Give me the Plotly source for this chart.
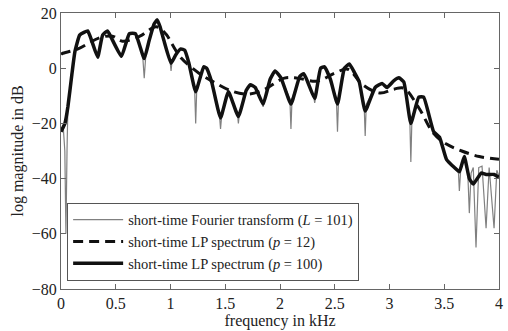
import plotly.graph_objects as go

# Short-time Fourier transform (L = 101)
stft_f = [0, 0.02, 0.035, 0.045, 0.055, 0.063, 0.1, 0.127, 0.17, 0.21, 0.244, 0.28, 0.335, 0.38, 0.425,
          0.46, 0.552, 0.624, 0.68, 0.745, 0.76, 0.775, 0.805, 0.85, 0.878, 0.905, 0.94, 0.995, 1.005,
          1.015, 1.05, 1.095, 1.13, 1.167, 1.22, 1.23, 1.24, 1.303, 1.33, 1.376, 1.445, 1.457, 1.47,
          1.529, 1.61, 1.62, 1.63, 1.692, 1.728, 1.774, 1.846, 1.91, 1.955, 2.009, 2.09, 2.1, 2.11,
          2.18, 2.217, 2.253, 2.307, 2.317, 2.327, 2.371, 2.407, 2.46, 2.515, 2.525, 2.535, 2.588,
          2.633, 2.679, 2.724, 2.768, 2.778, 2.788, 2.869, 2.932, 2.977, 3.041, 3.086, 3.131, 3.185,
          3.195, 3.205, 3.267, 3.312, 3.403, 3.457, 3.52, 3.593, 3.63, 3.638, 3.65, 3.683, 3.715,
          3.729, 3.745, 3.765, 3.79, 3.815, 3.845, 3.882, 3.91, 3.955, 3.98, 4.0]
stft_db = [-22, -21, -30, -60, -30, -14, -2, 6, 12, 13, 13.5, 10, 4, 12, 13.5,
           11, 4, 12.5, 12.5, 5, -3.6, 5, 10, 16, 18, 15, 10, 3, -1,
           3, 5, 7, 6.5, 2, -7, -20, -7, 0.5, 0, -5, -16, -22, -16,
           -8.5, -16, -20, -16, -8, -6, -7, -14, -4, -1, -3.5, -11, -22, -11,
           -3, -2, -5, -10, -12.6, -10, 0, 0.5, -4, -11, -23, -11, 0,
           1.5, -1.5, -5, -13, -24.6, -13, -7, -5.5, -7, -4.5, -3.5, -5, -18,
           -34, -18, -10.5, -10.5, -23, -25, -33, -36, -38, -44.5, -37, -32, -38,
           -52.5, -38, -36, -65, -36, -35.5, -58, -36, -58, -37, -39]

# Short-time LP spectrum (p = 12)
lp12_f = [0, 0.01, 0.15, 0.35, 0.47, 0.56, 0.72, 0.87, 0.96, 1.01, 1.1, 1.26, 1.38, 1.56, 1.71,
          1.86, 2.04, 2.16, 2.34, 2.5, 2.62, 2.75, 2.91, 3.04, 3.13, 3.27, 3.4, 3.52, 3.66, 3.82, 4.0]
lp12_db = [5, 5.3, 6.9, 11, 11.6, 9.8, 11.6, 15, 12.3, 9, 3.6, -1.8, -4.7, -8.3, -9.4,
           -7.6, -3.6, -3.6, -4.7, -1.8, -0.4, -5.8, -9, -7.6, -7.2, -14.5, -23.5, -27.5, -30, -32, -33]

# Short-time LP spectrum (p = 100)
lp100_f = [0, 0.036, 0.063, 0.1, 0.127, 0.17, 0.21, 0.244, 0.28, 0.335, 0.38, 0.425, 0.46, 0.552,
           0.624, 0.68, 0.76, 0.805, 0.85, 0.878, 0.905, 0.94, 1.005, 1.05, 1.095, 1.13, 1.167, 1.23,
           1.303, 1.33, 1.376, 1.457, 1.529, 1.62, 1.692, 1.728, 1.774, 1.846, 1.91, 1.955, 2.009,
           2.1, 2.18, 2.217, 2.253, 2.317, 2.371, 2.407, 2.46, 2.525, 2.588, 2.633, 2.679, 2.724,
           2.778, 2.869, 2.932, 2.977, 3.041, 3.086, 3.131, 3.195, 3.267, 3.312, 3.403, 3.457, 3.52,
           3.593, 3.638, 3.683, 3.729, 3.765, 3.837, 3.882, 3.955, 4.0]
lp100_db = [-23, -20, -14, -2, 6, 12, 13, 13.5, 10, 4, 12, 13.5, 11, 4.3,
            12.5, 12.5, 3.5, 10, 16, 17.5, 15, 10, 1.8, 5, 7, 6.5, 2, -8.5,
            0.5, 0, -5, -18, -8.5, -17.5, -8, -6, -7, -13, -4, -1, -3.5,
            -13, -3, -2, -5, -11, 0, 0.5, -4, -13, 0, 1.5, -1.5, -5,
            -15.5, -7, -5.5, -7, -4.5, -3.5, -5, -20, -10.5, -10.5, -23, -25, -33,
            -36, -37.5, -32, -40, -42, -38, -38.5, -38.5, -39.5]

x_ticks = [0, 0.5, 1, 1.5, 2, 2.5, 3, 3.5, 4]
y_ticks = [20, 0, -20, -40, -60, -80]

FONT = "Liberation Serif, Times New Roman, serif"

fig = go.Figure()
fig.add_trace(go.Scatter(x=stft_f, y=stft_db, mode="lines",
                         line=dict(color="#808080", width=1.2),
                         name="short-time Fourier transform (<i>L</i> = 101)"))
fig.add_trace(go.Scatter(x=lp12_f, y=lp12_db, mode="lines",
                         line=dict(color="#111111", width=3, dash="10px,6px", shape="spline", smoothing=1),
                         name="short-time LP spectrum (<i>p</i> = 12)"))
fig.add_trace(go.Scatter(x=lp100_f, y=lp100_db, mode="lines",
                         line=dict(color="#111111", width=3.5, shape="spline", smoothing=0.4),
                         name="short-time LP spectrum (<i>p</i> = 100)"))

axis_common = dict(showline=True, linecolor="#666666", linewidth=1, mirror="ticks",
                   ticks="inside", ticklen=5, tickcolor="#666666", showgrid=False,
                   zeroline=False, tickfont=dict(family=FONT, size=16, color="#222222"))

fig.update_layout(
    width=508, height=331,
    margin=dict(l=61, r=5, t=12, b=42),
    paper_bgcolor="white", plot_bgcolor="white",
    font=dict(family=FONT, color="#222222"),
    xaxis=dict(range=[0, 4], tickvals=x_ticks, ticktext=[str(t) for t in x_ticks],
               title=dict(text="frequency in kHz", font=dict(family=FONT, size=16), standoff=3),
               **axis_common),
    yaxis=dict(range=[-80, 20], tickvals=y_ticks,
               title=dict(text="log magnitude in dB", font=dict(family=FONT, size=16), standoff=4),
               **axis_common),
    legend=dict(x=0.014, y=0.03, xanchor="left", yanchor="bottom",
                bgcolor="white", bordercolor="#555555", borderwidth=1,
                font=dict(family=FONT, size=14.5, color="#222222"),
                tracegroupgap=0, itemwidth=50),
    showlegend=True,
)

fig.write_html("out.html")
